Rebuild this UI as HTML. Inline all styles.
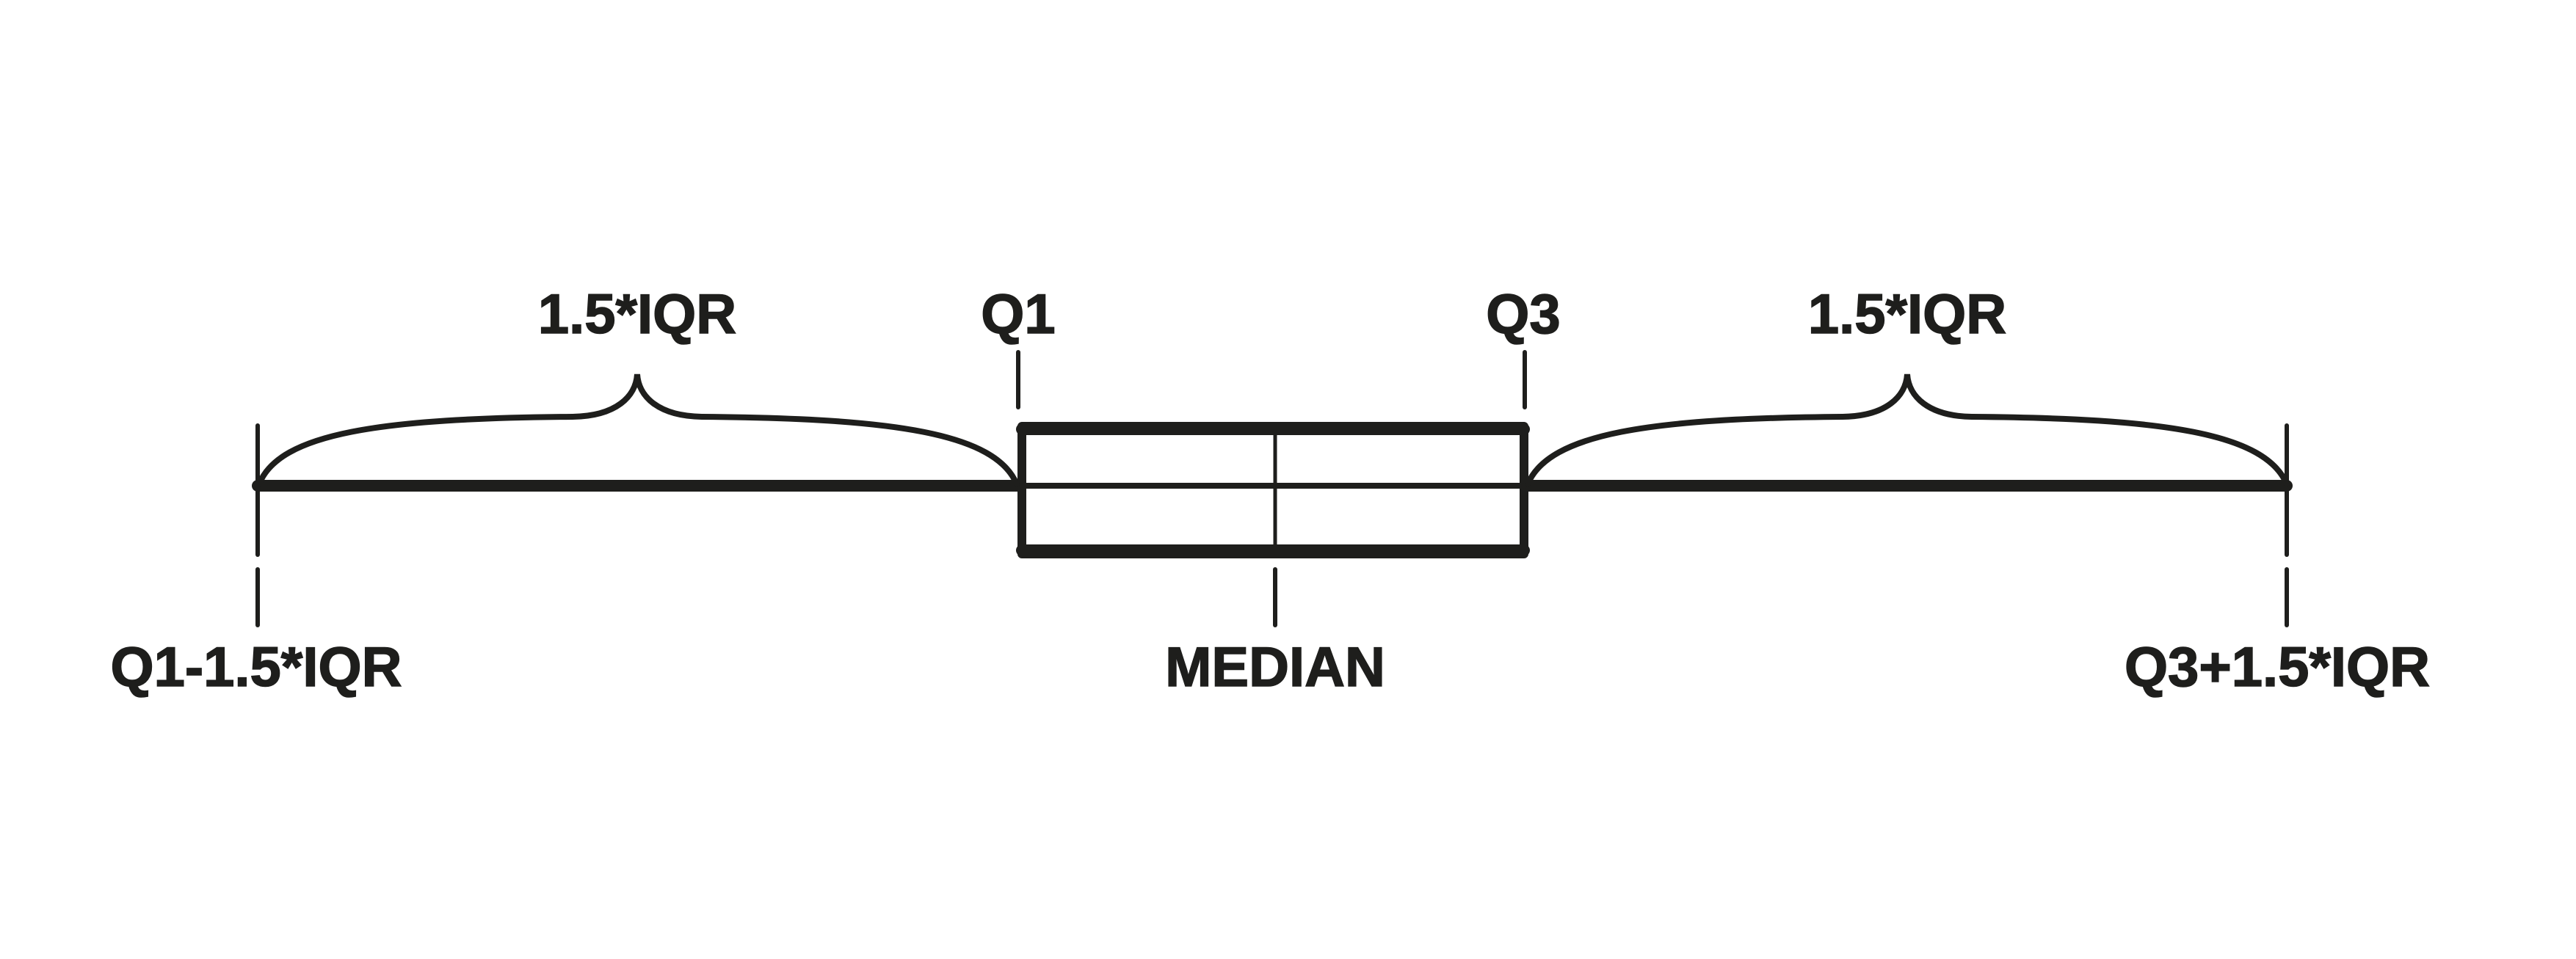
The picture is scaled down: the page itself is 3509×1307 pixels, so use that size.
<!DOCTYPE html>
<html><head><meta charset="utf-8"><style>
html,body{margin:0;padding:0;background:#fff;}
svg{display:block;}
text{font-family:"Liberation Sans",sans-serif;font-weight:bold;fill:#1e1e1c;font-size:76px;text-anchor:middle;stroke:#1e1e1c;stroke-width:1.5px;}
</style></head><body>
<svg width="3509" height="1307" viewBox="0 0 3509 1307" xmlns="http://www.w3.org/2000/svg">
<g stroke="#1e1e1c" fill="none" stroke-linecap="round">
<line x1="351" y1="662" x2="1390" y2="662" stroke-width="16"/>
<line x1="2077" y1="662" x2="3115" y2="662" stroke-width="16"/>
<rect x="1392" y="581" width="684" height="174" stroke-width="12" stroke-linejoin="round"/>
<line x1="1392" y1="585" x2="2076" y2="585" stroke-width="16"/>
<line x1="1392" y1="750" x2="2076" y2="750" stroke-width="16"/>
<line x1="1392" y1="662" x2="2076" y2="662" stroke-width="8"/>
<line x1="1737" y1="580" x2="1737" y2="755" stroke-width="5"/>
<line x1="351" y1="580" x2="351" y2="756" stroke-width="6"/>
<line x1="3115" y1="580" x2="3115" y2="756" stroke-width="6"/>
<line x1="351" y1="776" x2="351" y2="852" stroke-width="6"/>
<line x1="3115" y1="776" x2="3115" y2="852" stroke-width="6"/>
<line x1="1387" y1="480" x2="1387" y2="555" stroke-width="6"/>
<line x1="2077" y1="480" x2="2077" y2="555" stroke-width="6"/>
<line x1="1737" y1="776" x2="1737" y2="852" stroke-width="6"/>
<path d="M353,660 C380,590 520,570 780,568 C840,567 866,540 868,510 C870,540 896,567 956,568 C1216,570 1356,590 1385,660" stroke-width="8"/>
<path d="M2081,660 C2110,590 2250,570 2510,568 C2570,567 2596,540 2598,510 C2600,540 2626,567 2686,568 C2946,570 3086,590 3115,660" stroke-width="8"/>
</g>
<text x="868" y="454">1.5*IQR</text>
<text x="1387" y="454">Q1</text>
<text x="2075" y="454">Q3</text>
<text x="2598" y="454">1.5*IQR</text>
<text x="349" y="935">Q1-1.5*IQR</text>
<text x="1737" y="935">MEDIAN</text>
<text x="3102" y="935">Q3+1.5*IQR</text>
</svg>
</body></html>
